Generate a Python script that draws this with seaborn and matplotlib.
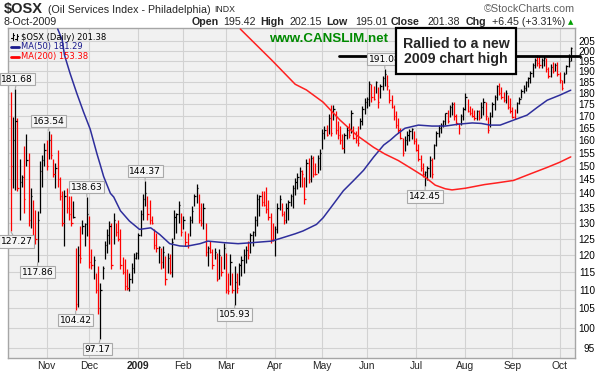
import numpy as np
import pandas as pd
import matplotlib
matplotlib.use("Agg")
import matplotlib.pyplot as plt
import seaborn as sns
from matplotlib.lines import Line2D
from matplotlib.patches import Rectangle
from matplotlib.ticker import FixedLocator, FixedFormatter, NullLocator

# ---------------- data ----------------
symbol = "$OSX"
index_name = "(Oil Services Index - Philadelphia)"
exchange = "INDX"
last_date_text = "8-Oct-2009"
first_day = "2008-10-10"
last_day = "2009-10-08"
holidays = ["2008-11-27", "2008-12-25", "2009-01-01", "2009-01-19", "2009-02-16",
            "2009-04-10", "2009-05-25", "2009-07-03", "2009-09-07"]

highs = [
    180.5, 169.3, 181.68, 169.0, 152.4, 146.6, 157.5, 162.6, 154.9, 141.8,
    137.7, 134.4, 133.8, 151.7, 154.3, 158.8, 160.1, 163.54, 162.6, 152.4,
    151.1, 156.2, 146.0, 140.7, 141.3, 141.8, 138.9, 138.9, 137.2, 122.2,
    122.7, 128.9, 131.1, 130.0, 138.63, 132.2, 121.7, 119.7, 114.8, 116.7,
    111.9, 116.7, 124.2, 127.9, 130.5, 130.0, 133.3, 130.0, 131.1, 127.9,
    119.2, 118.7, 115.8, 114.8, 117.7, 120.7, 121.0, 126.8, 134.4, 139.8,
    144.37, 138.9, 137.7, 132.2, 127.9, 126.8, 122.7, 122.2, 122.7, 119.7,
    120.7, 120.2, 125.3, 134.4, 133.3, 137.2, 133.3, 132.2, 127.3, 126.8,
    132.2, 135.5, 139.8, 143.4, 139.8, 136.6, 136.6, 130.0, 122.7, 124.2,
    121.7, 122.2, 120.7, 121.7, 119.7, 123.7, 120.7, 114.8, 120.2, 114.8,
    116.7, 114.8, 117.7, 119.7, 121.7, 122.7, 124.2, 126.8, 127.3, 132.2,
    139.8, 139.3, 140.7, 140.7, 142.2, 137.7, 133.3, 130.0, 128.9, 136.6,
    139.3, 136.6, 134.0, 136.6, 137.7, 139.8, 143.0, 145.4, 147.3, 149.6,
    148.5, 146.0, 152.4, 153.0, 154.3, 153.7, 151.1, 154.3, 156.3, 164.3,
    165.7, 166.3, 170.6, 174.8, 174.8, 172.0, 167.7, 165.7, 162.3, 163.0,
    165.7, 167.0, 172.7, 165.7, 163.6, 165.7, 169.2, 174.1, 177.7, 178.4,
    185.7, 184.2, 183.4, 185.7, 182.7, 184.2, 187.7, 191.08, 188.3, 182.0,
    179.1, 174.8, 172.0, 169.2, 165.0, 161.0, 161.6, 163.6, 164.6, 165.0,
    163.6, 160.7, 158.3, 154.3, 151.1, 147.9, 149.8, 153.7, 153.0, 158.3,
    163.6, 166.0, 167.0, 168.4, 171.3, 172.7, 174.6, 175.9, 176.2, 170.6,
    167.0, 170.6, 173.8, 179.8, 177.2, 174.4, 173.5, 172.7, 172.7, 172.7,
    176.0, 177.6, 176.2, 169.6, 171.7, 176.2, 179.0, 183.6, 184.4, 182.6,
    180.5, 181.3, 179.0, 177.6, 173.6, 172.8, 176.2, 178.3, 181.6, 183.6,
    185.7, 187.5, 190.2, 193.9, 196.3, 198.0, 197.5, 196.3, 197.5, 196.3,
    192.3, 193.6, 194.7, 193.9, 194.7, 189.9, 186.0, 189.9, 193.1, 198.5,
    202.15]

lows = [
    127.27, 141.8, 141.3, 140.7, 131.1, 142.4, 133.3, 149.8, 128.9, 128.4,
    124.2, 123.2, 117.86, 133.3, 142.4, 149.8, 148.5, 152.4, 152.4, 146.0,
    141.8, 142.4, 137.7, 128.9, 122.7, 133.3, 131.1, 128.9, 131.6, 104.42,
    105.4, 117.7, 126.3, 122.7, 125.8, 116.2, 115.8, 112.9, 109.1, 103.5,
    97.17, 112.9, 118.7, 120.7, 123.2, 115.8, 123.2, 125.8, 124.2, 115.8,
    114.3, 110.0, 110.0, 109.5, 111.9, 114.8, 118.7, 118.7, 125.8, 131.1,
    135.5, 131.1, 129.5, 129.5, 121.7, 121.0, 117.7, 115.8, 116.2, 111.3,
    114.8, 114.3, 113.4, 124.7, 126.8, 130.0, 125.8, 127.9, 122.7, 122.2,
    125.8, 130.0, 135.5, 136.6, 130.0, 128.9, 127.9, 119.7, 116.7, 120.7,
    115.8, 118.7, 112.4, 112.9, 113.8, 115.8, 109.1, 108.7, 111.4, 109.0,
    105.93, 109.1, 111.4, 113.8, 114.8, 117.7, 118.7, 120.7, 122.7, 125.8,
    128.9, 132.2, 135.5, 135.5, 133.3, 131.1, 123.7, 124.2, 119.7, 126.8,
    134.4, 132.2, 129.5, 130.0, 131.1, 135.5, 135.0, 139.4, 141.4, 142.4,
    142.4, 136.4, 142.4, 143.6, 144.2, 146.0, 146.6, 147.3, 148.5, 156.3,
    160.3, 161.6, 162.3, 161.6, 168.4, 162.3, 160.3, 158.3, 156.3, 155.0,
    160.3, 161.0, 163.0, 160.3, 159.0, 157.6, 164.3, 166.3, 170.6, 173.4,
    174.1, 176.2, 176.9, 179.8, 173.4, 177.6, 181.3, 183.4, 181.3, 175.5,
    173.4, 168.4, 165.0, 162.7, 160.3, 153.7, 155.6, 157.9, 159.6, 160.3,
    158.3, 155.6, 151.8, 147.9, 146.0, 142.45, 144.8, 146.0, 145.4, 152.4,
    157.6, 161.4, 163.0, 165.4, 166.3, 167.0, 169.6, 170.4, 168.4, 166.0,
    162.3, 166.3, 168.4, 172.7, 171.6, 170.2, 169.3, 168.4, 168.4, 168.1,
    169.0, 170.3, 168.2, 162.7, 165.4, 169.3, 172.5, 176.9, 179.0, 177.2,
    176.2, 175.4, 172.8, 171.0, 168.9, 168.5, 171.0, 175.1, 177.6, 180.1,
    181.0, 182.9, 184.7, 187.5, 191.5, 192.6, 191.5, 191.5, 192.6, 189.9,
    186.7, 187.5, 189.1, 190.4, 187.8, 184.7, 181.3, 184.4, 188.8, 192.0,
    195.01]

closes = [
    150, 160, 168, 142, 144, 146, 138, 152, 131, 139,
    126, 125, 131, 148, 152, 156, 150, 160, 154, 147,
    149, 145, 139, 130, 139, 135, 133, 130, 132, 106,
    120, 119, 129, 129.5, 133, 118, 117, 118.5, 110, 105,
    110, 116, 123, 126, 129, 117, 131, 127, 125, 117,
    115, 111, 110.5, 113, 116, 119, 120.5, 126, 133, 138,
    140, 133, 131, 130, 123, 122, 122.5, 118, 121, 113,
    119, 115, 124, 132, 133, 136, 127, 131, 124, 123,
    131, 134, 139, 142, 131, 130, 135, 121, 122, 121,
    117, 121, 113, 120, 115, 122, 110, 109.5, 118, 110,
    112, 110.5, 117, 118.5, 120, 121.5, 120, 126, 127, 131,
    138, 139, 137, 136, 134.5, 132, 125, 124.5, 128, 135,
    138, 133, 131, 135, 137, 139, 142, 144, 146, 148,
    147, 138, 151, 145, 153, 147, 146.8, 153, 155, 163,
    164, 162, 169, 163, 173, 164, 162, 160, 157, 162,
    164, 162, 171, 161, 160, 159, 168, 173, 176, 177.5,
    184, 178, 177.5, 185, 176, 183, 187, 189, 183, 177,
    174, 170, 166, 164, 161, 155, 160, 162, 163.5, 164.5,
    159.5, 156, 152.5, 149, 147, 147.5, 149, 152, 147, 158,
    163, 165, 166, 168, 171, 168, 174, 175, 170, 167,
    165, 170, 173, 178, 172, 171, 170, 169, 172, 169,
    174, 176, 170, 164, 170, 175, 178, 183, 180, 178,
    177, 180, 174, 172, 169.5, 169, 175.5, 177.5, 181, 182.5,
    185, 187, 189.5, 193, 195.5, 194, 193, 195.5, 196.5, 191,
    188, 192, 190, 193, 189, 186, 182.5, 189, 192.5, 194.93,
    201.38]

last_open = 195.42

# moving averages (bar position, value)
ma50_pos = [21, 23, 24, 26.5, 29.5, 32.5, 35.5, 38.5, 40, 41.5, 44.5, 46, 49, 53,
            57.5, 62.5, 66.5, 71, 75.5, 78.5, 84.5, 88, 95.5, 101.5, 107.5, 116.5,
            122.5, 127, 130.5, 136.5, 139.5, 144, 148.5, 153, 157.5, 162, 166.5,
            169.5, 172, 176, 182, 188, 194, 200, 206, 210, 214, 218.5, 224.5,
            230.5, 235, 239.5, 245, 250]
ma50_val = [211.3, 205.6, 198.0, 189.1, 179.9, 171.7, 164.4, 154.6, 150.3, 146.0,
            140.0, 138.7, 134.0, 130.6, 127.9, 128.4, 126.3, 123.4, 122.7, 122.6,
            123.4, 124.2, 123.7, 123.4, 123.7, 124.2, 125.5, 126.5, 127.4, 129.5,
            131.7, 136.2, 140.9, 144.5, 148.3, 153.3, 158.0, 160.0, 162.0, 164.8,
            166.1, 165.7, 165.7, 166.5, 167.0, 166.8, 166.1, 166.1, 168.2, 170.3,
            173.6, 176.8, 179.0, 181.29]
ma200_pos = [102.5, 116.5, 127, 132, 139.5, 147, 154.5, 162, 167, 173, 179, 185,
             189.5, 194, 197, 203, 211.5, 217, 224.5, 232, 239.5, 245, 250]
ma200_val = [211.3, 195.5, 184.0, 181.4, 175.9, 168.2, 161.9, 157.1, 154.5, 152.0,
             148.9, 145.8, 142.9, 141.6, 141.2, 141.8, 143.1, 143.7, 144.6, 147.0,
             149.4, 151.3, 153.38]

# labelled turning points: (bar, 'high'/'low')
callout_bars = [2, 17, 34, 60, 167, 0, 12, 29, 40, 100, 185]
callout_kind = ["high", "high", "high", "high", "high", "low", "low", "low", "low", "low", "low"]

y_ticks = list(range(95, 206, 5))
resistance_level = 197.7
resistance_from_bar = 146.7

note_lines = ["Rallied to a new", "2009 chart high"]
site_text = "www.CANSLIM.net"

# ---------------- figure ----------------
sns.set_style("white")
plt.rcParams["font.family"] = ["Liberation Sans", "DejaVu Sans"]

W, H = 604, 375
fig = plt.figure(figsize=(W / 100, H / 100), dpi=100)
fig.patch.set_facecolor("white")


def fx(x):
    return x / W


def fy(y):
    return 1 - y / H


ax_l, ax_r, ax_t, ax_b = 8, 575, 28.3, 358
ax = fig.add_axes([fx(ax_l), fy(ax_b), (ax_r - ax_l) / W, (ax_b - ax_t) / H])
ax.set_facecolor("#f1f1f1")

dates = pd.bdate_range(first_day, last_day, freq="C", holidays=holidays)
n = len(highs)
assert len(lows) == n and len(closes) == n and len(dates) == n
x = np.arange(n)
hi = np.array(highs)
lo = np.array(lows)
cl = np.array(closes)
up = np.r_[False, cl[1:] > cl[:-1]]
colors = np.where(up, "black", "#ff0000")

ax.vlines(x, lo, hi, colors=colors, lw=0.9, zorder=3)
ax.hlines(cl, x, x + 0.6, colors=colors, lw=0.9, zorder=3)

sns.lineplot(x=ma50_pos, y=ma50_val, ax=ax, color="#2e2e9c", lw=1.1,
             estimator=None, sort=False, legend=False, zorder=4)
sns.lineplot(x=ma200_pos, y=ma200_val, ax=ax, color="#ff2020", lw=1.1,
             estimator=None, sort=False, legend=False, zorder=4)

ax.set_yscale("log")
ax.set_ylim(92.66, 211.7)
ax.set_xlim(-1.2, 251.9)
ax.yaxis.set_major_locator(FixedLocator(y_ticks))
ax.yaxis.set_major_formatter(FixedFormatter([str(v) for v in y_ticks]))
ax.yaxis.set_minor_locator(NullLocator())
ax.yaxis.tick_right()
ax.tick_params(axis="y", length=0, pad=14.4, labelsize=7.2, labelcolor="black")
for lbl in ax.get_yticklabels():
    lbl.set_ha("right")

month_idx = [i for i in range(1, n) if dates[i].month != dates[i - 1].month]
month_lab = [str(dates[i].year) if dates[i].month == 1 else dates[i].strftime("%b") for i in month_idx]
ax.set_xticks(month_idx)
ax.set_xticklabels(month_lab)
ax.tick_params(axis="x", length=0, pad=2.5, labelsize=7.4)
for lbl in ax.get_xticklabels():
    if lbl.get_text().isdigit():
        lbl.set_fontweight("bold")

ax.grid(True, color="#d2d2d2", lw=0.8)
ax.set_axisbelow(True)
for s in ax.spines.values():
    s.set_color("#a6a6a6")
    s.set_linewidth(1.0)

# resistance line
ax.plot([resistance_from_bar, n + 3], [resistance_level] * 2, color="black", lw=2.0,
        clip_on=False, zorder=6)

# callouts
for b, kind in zip(callout_bars, callout_kind):
    if kind == "high":
        val, dy = hi[b], 10
    else:
        val, dy = lo[b], -10
    dx = {0: 6, 2: 2, 40: -3}.get(b, 0)
    ax.annotate(f"{val:.2f}", xy=(b, val), xytext=(dx, dy), textcoords="offset pixels",
                ha="center", va="center", fontsize=6.6, family="DejaVu Sans", color="black",
                bbox=dict(boxstyle="square,pad=0.18", fc="#f6f6f6", ec="#a9a9a9", lw=0.8),
                arrowprops=dict(arrowstyle="-", color="#a9a9a9", lw=0.8, shrinkA=0, shrinkB=0.5),
                annotation_clip=False, zorder=7)

# in-chart legend
fig.text(fx(21), fy(37), f"{symbol} (Daily) {closes[-1]:.2f}".replace("$", r"\$"), fontsize=6.0,
         family="DejaVu Sans", va="center", ha="left", color="black")
for bx, y0, y1, t1, t2 in [(12.5, 33, 40, 38, 35), (16.5, 34, 40, 39, 36)]:
    fig.add_artist(Line2D([fx(bx)] * 2, [fy(y0), fy(y1)], color="black", lw=0.8))
    fig.add_artist(Line2D([fx(bx - 1.5), fx(bx)], [fy(t1)] * 2, color="black", lw=0.8))
    fig.add_artist(Line2D([fx(bx), fx(bx + 1.5)], [fy(t2)] * 2, color="black", lw=0.8))
fig.add_artist(Line2D([fx(11), fx(19)], [fy(47)] * 2, color="#1a1a8c", lw=2))
fig.text(fx(21), fy(47), f"MA(50) {ma50_val[-1]:.2f}", fontsize=6.0, family="DejaVu Sans",
         va="center", ha="left", color="#1a1a8c")
fig.add_artist(Line2D([fx(11), fx(19)], [fy(57)] * 2, color="#ff0000", lw=2))
fig.text(fx(21), fy(57), f"MA(200) {ma200_val[-1]:.2f}", fontsize=6.0, family="DejaVu Sans",
         va="center", ha="left", color="#ff0000")

# site text
fig.text(fx(328.5), fy(38.5), site_text, fontsize=9.6, fontweight="bold", color="#008a00",
         ha="center", va="center")

# note box
fig.add_artist(Rectangle((fx(396), fy(74)), 120 / W, 46 / H, transform=fig.transFigure,
                         fc="white", ec="black", lw=1.6, zorder=10))
fig.text(fx(456), fy(43.5), note_lines[0], fontsize=10.2, fontweight="bold", ha="center",
         va="center", zorder=11)
fig.text(fx(456), fy(59.5), note_lines[1], fontsize=10.2, fontweight="bold", ha="center",
         va="center", zorder=11)

# header
fig.text(fx(4), fy(9.5), symbol.replace("$", r"\$"), fontsize=10.5, fontweight="bold", va="center")
fig.text(fx(48), fy(10), index_name, fontsize=7.7, va="center")
fig.text(fx(214), fy(10), exchange, fontsize=6.3, va="center")
fig.text(fx(575), fy(9.5), "\u00a9StockCharts.com", fontsize=7.8, va="center", ha="right",
         color="#606060")
fig.text(fx(4), fy(22), last_date_text, fontsize=7.7, va="center")

chg = closes[-1] - closes[-2]
pct = chg / closes[-2] * 100
hdr = [("Open", True, 192), (f"{last_open:.2f}", False, 223),
       ("High", True, 260), (f"{highs[-1]:.2f}", False, 289),
       ("Low", True, 326), (f"{lows[-1]:.2f}", False, 355),
       ("Close", True, 391), (f"{closes[-1]:.2f}", False, 428),
       ("Chg", True, 466), (f"{chg:+.2f} ({pct:+.2f}%)", False, 492)]
for txt, bold, px in hdr:
    fig.text(fx(px), fy(22), txt, fontsize=7.7, fontweight="bold" if bold else "normal",
             va="center", ha="left")
fig.text(fx(571), fy(22), "\u25b2", fontsize=5, color="#00a000", va="center", ha="center",
         family="DejaVu Sans")

fig.savefig("out.png", dpi=100)
